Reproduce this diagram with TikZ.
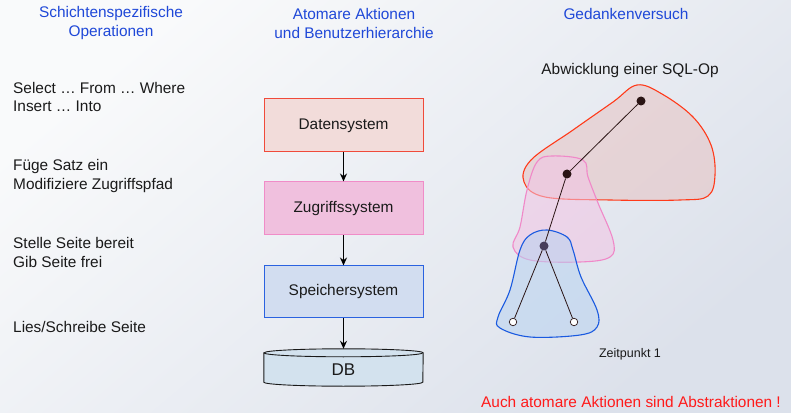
\documentclass[tikz,border=0pt]{standalone}
\usepackage{fontspec}
\setmainfont{Liberation Sans}
\usetikzlibrary{arrows.meta}
\definecolor{bgA}{HTML}{F9FAFB}
\definecolor{bgB}{HTML}{DCE1EB}
\definecolor{hdrblue}{HTML}{1F48D8}
\definecolor{txt}{HTML}{1A1A1A}
\definecolor{alert}{HTML}{FF1A1A}
\definecolor{datfill}{HTML}{F2DCDA}
\definecolor{datline}{HTML}{F04A3A}
\definecolor{zugfill}{HTML}{F0C0DE}
\definecolor{zugline}{HTML}{F08CC8}
\definecolor{spefill}{HTML}{D2DDF0}
\definecolor{speline}{HTML}{2A62E0}
\definecolor{dbfill}{HTML}{D3E2EE}
\definecolor{redblobfill}{HTML}{E6C2C2}
\definecolor{redblobline}{HTML}{FF3A1A}
\definecolor{pinkblobfill}{HTML}{F2C4E4}
\definecolor{pinkblobline}{HTML}{F088C8}
\definecolor{blueblobfill}{HTML}{B8D2F0}
\definecolor{blueblobline}{HTML}{1A5AE0}
\definecolor{dotc}{HTML}{2A1414}
\tikzset{
  x=1pt, y=1pt,
  base/.style={font=\fontsize{15.4}{18.5}\selectfont, text=txt, inner sep=0pt},
  header/.style={base, text=hdrblue, align=center, font=\fontsize{15.4}{19}\selectfont},
  optext/.style={base, align=left, anchor=west},
  layer/.style={base, draw, line width=1pt, minimum width=159pt, minimum height=53pt},
  conn/.style={draw=black, line width=1.3pt, -{Stealth[length=8pt,width=7pt]}},
  blob/.style={line width=1.1pt, fill opacity=0.55},
  edge/.style={draw=dotc, line width=0.8pt},
  fulldot/.style={circle, fill=dotc, inner sep=0pt, minimum size=9pt},
  opendot/.style={circle, draw=dotc, fill=white, line width=0.7pt, inner sep=0pt, minimum size=7.5pt},
}
\begin{document}
\begin{tikzpicture}
\useasboundingbox (0,0) rectangle (791,412);
\shade[shading=axis, top color=bgA, bottom color=bgB, shading angle=40] (0,0) rectangle (791,412);

% headers
\node[header] (h1) at (111,388.5) {Schichtenspezifische\\Operationen};
\node[header] (h2) at (354,388.5) {Atomare Aktionen\\und Benutzerhierarchie};
\node[header] (h3) at (626,398) {Gedankenversuch};

% left column
\node[optext] (op1) at (13,315) {Select … From … Where\\Insert … Into};
\node[optext] (op2) at (13,236) {Füge Satz ein\\Modifiziere Zugriffspfad};
\node[optext] (op3) at (13,159.5) {Stelle Seite bereit\\Gib Seite frei};
\node[optext] (op4) at (13,85) {Lies/Schreibe Seite};

% layers
\node[layer, draw=datline, fill=datfill] (dat) at (343.5,286.5) {Datensystem};
\node[layer, draw=zugline, fill=zugfill] (zug) at (343.5,203.5) {Zugriffssystem};
\node[layer, draw=speline, fill=spefill, minimum height=52pt] (spe) at (343.5,120) {Speichersystem};

% DB cylinder
\node[base, minimum width=159pt, minimum height=37pt] (db) at (343.5,44.5) {};
\path[draw=txt, fill=dbfill, line width=0.9pt]
  ([yshift=-4pt]db.north west) -- ([yshift=4pt]db.south west)
  arc[start angle=180, end angle=360, x radius=79.5pt, y radius=4pt]
  -- ([yshift=-4pt]db.north east)
  arc[start angle=0, end angle=180, x radius=79.5pt, y radius=4pt] -- cycle;
\draw[draw=txt, line width=0.9pt] ([yshift=-4pt]db.north west)
  arc[start angle=180, end angle=360, x radius=79.5pt, y radius=4pt];
\node[base, font=\fontsize{17}{20}\selectfont] (dbl) at ([yshift=-2pt]db.center) {DB};

\draw[conn] (dat) -- (zug);
\draw[conn] (zug) -- (spe);
\draw[conn] (spe) -- (db);

% blobs
\draw[blob, draw=redblobline, fill=redblobfill] plot[smooth cycle, tension=0.6] coordinates
  {(637,327) (662,318) (693,295) (711,267) (715,237) (708,216) (680,212) (610,212) (545,215) (524,230) (531,252) (573,282) (613,310)};
\draw[blob, draw=pinkblobline, fill=pinkblobfill] plot[smooth cycle, tension=0.6] coordinates
  {(552,256) (583,252) (588,235) (598,209) (613,172) (610,155) (580,150) (530,152) (513,165) (520,185) (527,222) (537,250)};
\draw[blob, draw=blueblobline, fill=blueblobfill] plot[smooth cycle, tension=0.6] coordinates
  {(547,182) (567,175) (573,162) (581,135) (597,102) (597,85) (580,77) (530,75) (500,84) (498,95) (510,122) (520,162) (530,177)};

% tree
\node[fulldot] (d1) at (641,311) {};
\node[fulldot] (d2) at (567,238) {};
\node[fulldot, fill=dotc!80!blue!60!gray] (d3) at (544,166) {};
\node[opendot] (o1) at (513,90) {};
\node[opendot] (o2) at (574,90) {};
\draw[edge] (d1) -- (d2);
\draw[edge] (d2) -- (d3);
\draw[edge] (d3) -- (o1);
\draw[edge] (d3) -- (o2);

\node[base] (abw) at (630,341) {Abwicklung einer SQL-Op};
\node[base, font=\fontsize{12.5}{15}\selectfont] (zp) at (630,58) {Zeitpunkt 1};
\node[base, text=alert] (note) at (631,10) {Auch atomare Aktionen sind Abstraktionen !};
\end{tikzpicture}
\end{document}
